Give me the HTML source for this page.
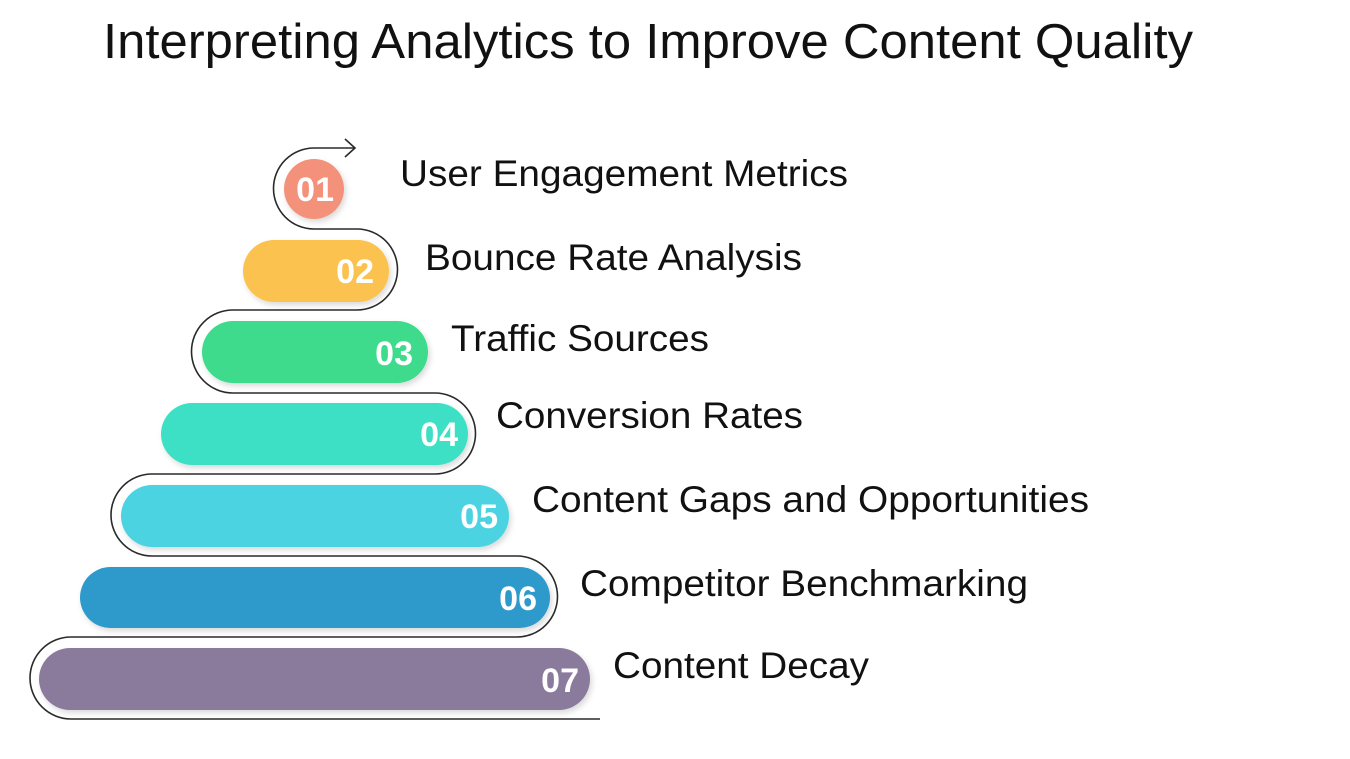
<!DOCTYPE html>
<html><head><meta charset="utf-8"><style>
html,body{margin:0;padding:0;background:#fff;}
svg{display:block;}
</style></head><body>
<svg width="1350" height="759" viewBox="0 0 1350 759" xmlns="http://www.w3.org/2000/svg" font-family="Liberation Sans, sans-serif">
<defs>
<filter id="sh" x="-10%" y="-30%" width="120%" height="160%"><feDropShadow dx="2" dy="3" stdDeviation="3" flood-color="#000" flood-opacity="0.15"/></filter>
</defs>
<text x="103" y="58" font-size="49" fill="#111" textLength="1090" lengthAdjust="spacingAndGlyphs">Interpreting Analytics to Improve Content Quality</text>
<path d="M355,148 L314,148 A40.5,40.5 0 0 0 314,229 L357,229 A40.5,40.5 0 0 1 357,310 L233,310 A41.5,41.5 0 0 0 233,393 L435,393 A40.5,40.5 0 0 1 435,474 L152,474 A41,41 0 0 0 152,556 L517,556 A40.5,40.5 0 0 1 517,637 L71,637 A41,41 0 0 0 71,719 L600,719" fill="none" stroke="#2a2a2a" stroke-width="1.6"/>
<path d="M345,139 L355,148 L345,157" fill="none" stroke="#2a2a2a" stroke-width="1.6"/>
<g filter="url(#sh)">
<circle cx="314" cy="189" r="30" fill="#f4917a"/>
<rect x="243" y="240" width="146" height="62" rx="31" fill="#fbc24f"/>
<rect x="202" y="321" width="226" height="62" rx="31" fill="#3ddb8b"/>
<rect x="161" y="403" width="307" height="62" rx="31" fill="#3de0c4"/>
<rect x="121" y="485" width="388" height="62" rx="31" fill="#4cd3e1"/>
<rect x="80" y="567" width="470" height="61" rx="30.5" fill="#2f9acb"/>
<rect x="39" y="648" width="551" height="62" rx="31" fill="#8a7a9c"/>
</g>
<g fill="#fff" font-weight="bold" font-size="34" text-anchor="end">
<text x="334" y="201">01</text>
<text x="374" y="283">02</text>
<text x="413" y="365">03</text>
<text x="458" y="446">04</text>
<text x="498" y="528">05</text>
<text x="537" y="610">06</text>
<text x="579" y="692">07</text>
</g>
<g fill="#111" font-size="37">
<text x="400" y="186" textLength="448" lengthAdjust="spacingAndGlyphs">User Engagement Metrics</text>
<text x="425" y="270" textLength="377" lengthAdjust="spacingAndGlyphs">Bounce Rate Analysis</text>
<text x="451" y="351" textLength="258" lengthAdjust="spacingAndGlyphs">Traffic Sources</text>
<text x="496" y="428" textLength="307" lengthAdjust="spacingAndGlyphs">Conversion Rates</text>
<text x="532" y="512" textLength="557" lengthAdjust="spacingAndGlyphs">Content Gaps and Opportunities</text>
<text x="580" y="596" textLength="448" lengthAdjust="spacingAndGlyphs">Competitor Benchmarking</text>
<text x="613" y="678" textLength="256" lengthAdjust="spacingAndGlyphs">Content Decay</text>
</g>
</svg>
</body></html>
